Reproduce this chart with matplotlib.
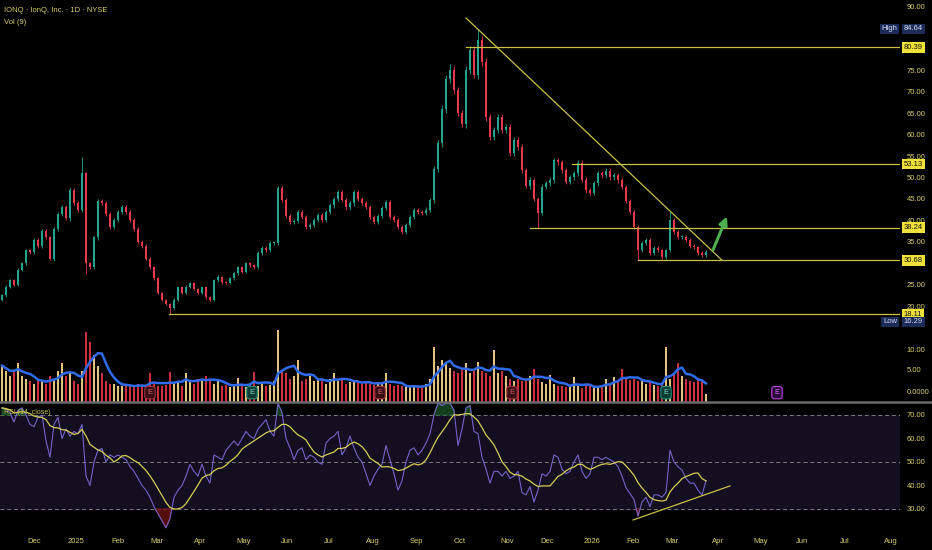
import numpy as np
import pandas as pd
import matplotlib
matplotlib.use('Agg')
import matplotlib.pyplot as plt
import matplotlib.transforms as mtransforms
from matplotlib.lines import Line2D

plt.rcParams['font.family'] = ['Liberation Sans', 'DejaVu Sans']

# --- данные (одна свеча ~ 2 торговых дня) ---
closes = [22.5, 24.5, 26, 25, 28.5, 30, 33, 32.5, 35.5, 34,
          37.5, 36, 31, 38, 41.5, 43, 40.5, 47, 44, 42.5,
          51, 30, 29, 36, 44.5, 44, 41.5, 38.5, 40, 42,
          43, 42, 40, 38, 35, 34, 31, 29, 26.5, 23,
          21.5, 20.5, 19.5, 21.5, 24.4, 23, 24.5, 25.4, 24, 23,
          24.4, 22, 21.5, 26, 26.8, 25.5, 25.4, 26.5, 27.7, 29.1,
          28, 30, 29.5, 29, 32.4, 33.5, 33, 34.7, 34.7, 47.5,
          44.7, 41, 39.5, 39.8, 41.9, 40.8, 38.4, 38.9, 40, 41.2,
          40, 41.9, 43.5, 45, 46.6, 44.7, 43, 44, 46.6, 45,
          44, 43.1, 40.8, 39.6, 41, 42.9, 44.3, 40.8, 40, 38.5,
          37.3, 38.9, 40.8, 42.4, 41.9, 41.7, 42.5, 44.7, 52, 58,
          66, 73, 75.1, 70.4, 65, 62.5, 75, 79.7, 74, 82,
          77, 64, 59.4, 61.1, 64.1, 61.1, 61.8, 55.7, 58.7, 57.1,
          51.7, 48, 49.4, 45, 41.7, 47.8, 48.7, 49.4, 54, 53.5,
          51.7, 49, 50, 51, 53.4, 49.5, 47, 46.4, 48.7, 51,
          50.5, 51.5, 50.1, 50.5, 49.4, 47.8, 44.5, 42, 38.4, 33,
          34.7, 35.4, 32.4, 33.5, 33, 31.4, 33, 40, 37.2, 36.1,
          36.1, 35.4, 34, 33.7, 32.4, 31.9, 32.6]
first_open = 21.5
wick_hi = {20: 54.8, 112: 76.5, 119: 84.64, 167: 42.0}
wick_lo = {21: 27.5, 42: 18.11, 134: 38.24, 159: 30.68}

volumes = [7, 6, 5, 6, 7.5, 5, 4.5, 4, 3.5, 4.5,
           4, 3.5, 5, 4.5, 6, 7.5, 5, 5.5, 4, 3.5,
           6, 13.5, 11.5, 9, 7, 5.5, 4, 3.5, 3.5, 3,
           3, 3.5, 3, 2.8, 3.5, 3, 3.2, 5.5, 3.5, 3,
           3, 3.2, 5.8, 3.5, 4, 3, 5.6, 4, 3.5, 4.5,
           4, 5, 4.5, 3.5, 4, 3, 3.2, 2.8, 3, 4.6,
           3, 2.8, 3.5, 5.8, 3, 3.5, 3, 3.2, 4, 13.8,
           6, 5.5, 4.5, 5, 8, 4, 4.5, 5, 4, 4.2,
           4, 3.5, 4.5, 5.5, 4, 4.6, 3.5, 3.8, 4.2, 3.6,
           3.5, 4, 3.5, 3.2, 3.8, 3.4, 5.6, 3.5, 3, 3.2,
           3, 2.8, 3, 3.2, 2.8, 3, 3.5, 4.5, 10.6, 7,
           8, 7.5, 6.5, 6, 5.5, 6.5, 7.5, 5.5, 6, 7.7,
           6, 5.5, 5, 10, 5.5, 6, 5, 4.5, 4, 4.5,
           4, 4.5, 5, 6.3, 4.5, 3.8, 3.5, 5.2, 3.5, 3,
           3, 2.8, 3.2, 4.8, 3, 2.6, 3.2, 3, 2.8, 3,
           3.2, 4.5, 3.5, 4.8, 4, 6.3, 4.5, 4.2, 4.5, 4,
           4, 3.5, 3.8, 3.2, 3, 3.5, 10.6, 4.5, 5.5, 7.5,
           5, 4.5, 4, 3.8, 4.5, 4, 1.5]

rsi = [73, 72.5, 71, 67, 72, 73, 70, 66, 65, 69,
       70, 59, 52, 66, 69, 60, 64, 61, 63, 62,
       66, 44, 40, 50, 55, 55.8, 50, 53, 52, 53,
       52, 51, 48, 46, 43, 40, 38, 35, 31, 28,
       25, 22, 26, 35, 38, 40, 44, 49, 46, 44,
       49, 44, 41, 53, 52, 51, 55, 57, 59, 57,
       60, 63, 61, 60, 64, 66, 68, 63, 61, 75,
       71, 60, 56, 51, 55, 56, 51, 53, 52, 50,
       49, 58, 60, 61, 63, 53, 56, 61, 56, 52,
       50, 45, 40, 44, 47, 49, 57, 51, 45, 38,
       42, 50, 55, 56, 53, 55, 58, 62, 70, 75,
       74, 75, 75, 72, 57, 64, 73, 74, 63, 62,
       52, 47, 41, 46, 46, 44, 46, 43, 44, 46,
       37, 36, 39.5, 33, 38, 45, 44, 46, 53, 52,
       47, 45, 46, 50, 53, 46, 43, 45, 52, 52,
       51, 52, 51, 50, 48, 44, 39, 36.6, 34, 27,
       33, 35, 31, 36, 36, 35, 37, 55, 50, 48,
       46.5, 43, 41, 41, 38, 36, 42]

month_labels = ['Dec', '2025', 'Feb', 'Mar', 'Apr', 'May', 'Jun', 'Jul', 'Aug', 'Sep', 'Oct',
                'Nov', 'Dec', '2026', 'Feb', 'Mar', 'Apr', 'May', 'Jun', 'Jul', 'Aug']
month_pos = [8, 18.5, 29, 38.75, 49.5, 60.5, 71.25, 81.75, 92.75, 103.5, 114.5,
             126.25, 136.25, 147.5, 157.75, 167.5, 179, 189.75, 200, 210.75, 222.25]

price_ticks = [20, 25, 35, 40, 45, 50, 55, 60, 65, 70, 75, 90]
levels = [80.39, 53.13, 38.24, 30.68, 18.11]
level_start = [116, 142.5, 132, 159, 41.75]
high_val, low_val = 84.64, 16.29
earn_pos = [37, 62.5, 94.5, 127.5, 166, 193.75]
earn_kind = ['r', 'g', 'r', 'r', 'g', 'p']

# цвета
bg = '#000000'
ylw = '#d9cf6a'
up_c, dn_c = '#22a58e', '#e8394c'
vup_c, vdn_c = '#e3c27f', '#cf2f3d'
line_c = '#c9c046'

W, H = 932, 550
fig = plt.figure(figsize=(W / 100, H / 100), dpi=100, facecolor=bg)
right = 900 / W

ax = fig.add_axes([0, 1 - 401 / H, right, 401 / H], facecolor=bg)
axv = fig.add_axes([0, 1 - 402 / H, right, 72 / H])
axv.patch.set_alpha(0)
axr = fig.add_axes([0, 1 - 532 / H, right, 129 / H], facecolor=bg)

n = len(closes)
x = np.arange(n)
c = np.array(closes, dtype=float)
o = np.r_[first_open, c[:-1]]
up = c >= o
wick = 0.012 * c
hi = np.maximum(o, c) + wick
lo = np.minimum(o, c) - wick
for k, v in wick_hi.items():
    hi[k] = v
for k, v in wick_lo.items():
    lo[k] = v
cols = np.where(up, up_c, dn_c)

ax.vlines(x, lo, hi, colors=cols, lw=0.6, zorder=3)
ax.bar(x, np.maximum(np.abs(c - o), 0.25), bottom=np.minimum(o, c), width=0.6,
       color=cols, zorder=3, linewidth=0)

xmax = (W - 32 - 2) / 4
for lv, st in zip(levels, level_start):
    ax.plot([st, xmax], [lv, lv], color=line_c, lw=0.9, zorder=4)
# нисходящая линия тренда и стрелка
ax.plot([116, 180], [87.2, 30.68], color=line_c, lw=0.9, zorder=4)
ax.annotate('', xy=(181.5, 41.5), xytext=(177.5, 32.5),
            arrowprops=dict(arrowstyle='-|>', color='#4caf50', lw=2.2, mutation_scale=12),
            zorder=5)

ax.set_xlim(-0.5, xmax)
ax.set_ylim(-2.16, 91.4)
ax.set_xticks([])
ax.yaxis.tick_right()
ax.set_yticks(price_ticks)
ax.set_yticklabels(['%.2f' % t for t in price_ticks])
ax.tick_params(axis='y', length=0, pad=5, labelsize=5.5, labelcolor=ylw)
for s in ax.spines.values():
    s.set_visible(False)

trans = mtransforms.blended_transform_factory(ax.transAxes, ax.transData)
for lv in levels:
    ax.text(1.004, lv, '%.2f' % lv, transform=trans, ha='left', va='center', fontsize=5.5,
            color='#111111', clip_on=False, zorder=6,
            bbox=dict(boxstyle='square,pad=0.25', fc='#f0e03a', ec='none'))
for val, name in [(high_val, 'High'), (low_val, 'Low')]:
    ax.text(1.004, val, '%.2f' % val, transform=trans, ha='left', va='center', fontsize=5.5,
            color='#d8dcf0', clip_on=False, zorder=6,
            bbox=dict(boxstyle='square,pad=0.25', fc='#1c2c58', ec='none'))
    ax.text(0.997, val, name, transform=trans, ha='right', va='center', fontsize=5.5,
            color='#d8dcf0', clip_on=False, zorder=6,
            bbox=dict(boxstyle='square,pad=0.25', fc='#1c2c58', ec='none'))

# объём
vol = np.array(volumes, dtype=float)
axv.bar(x, vol, width=0.65, color=np.where(up, vup_c, vdn_c), linewidth=0)
vma = pd.Series(vol).rolling(5, min_periods=1).mean()
axv.plot(x, vma, color='#2f6bea', lw=1.8)
ek = {'r': ('#3a0d12', '#a03040', '#d06070'), 'g': ('#0b3d35', '#1f8a78', '#7fd8c8'),
      'p': ('#2a0a3a', '#c040e0', '#d070f0')}
for ep, kd in zip(earn_pos, earn_kind):
    fc, ec, tc = ek[kd]
    axv.text(ep, 1.8, 'E', ha='center', va='center', fontsize=5.5, color=tc,
             bbox=dict(boxstyle='round,pad=0.35', fc=fc, ec=ec, lw=0.8))
axv.set_xlim(-0.5, xmax)
axv.set_ylim(0, 72 / 5.2)
axv.set_xticks([])
axv.yaxis.tick_right()
axv.set_yticks([0, 5, 10])
axv.set_yticklabels(['0.0000', '5.00', '10.00'])
axv.tick_params(axis='y', length=0, pad=5, labelsize=5.5, labelcolor=ylw)
# подписи шкалы объёма чуть выше, как в оригинале
for lab, dy in zip(axv.get_yticklabels(), [10, 6, 0]):
    lab.set_transform(lab.get_transform() + mtransforms.ScaledTranslation(0, dy / 100, fig.dpi_scale_trans))
for s in axv.spines.values():
    s.set_visible(False)

# RSI
r = np.array(rsi, dtype=float)
axr.axhspan(30, 70, color='#130f20', zorder=0)
for lv in [70, 50, 30]:
    axr.axhline(lv, color='#7a7a7a', lw=0.7, ls=(0, (4, 3)), zorder=1)
axr.fill_between(x, r, 70, where=r > 70, interpolate=True, color='#1d5a2a', alpha=0.7, zorder=2)
axr.fill_between(x, r, 30, where=r < 30, interpolate=True, color='#7a1414', alpha=0.7, zorder=2)
axr.plot(x, r, color='#7463c8', lw=0.8, zorder=3)
rma = pd.Series(r).rolling(8, min_periods=1).mean()
axr.plot(x, rma, color='#d8cc55', lw=0.9, zorder=4)
axr.plot([157.75, 182], [25.3, 39.8], color=line_c, lw=0.9, zorder=4)
axr.set_xlim(-0.5, xmax)
axr.set_ylim(20.2, 75.1)
axr.yaxis.tick_right()
rt = [30, 40, 50, 60, 70]
axr.set_yticks(rt)
axr.set_yticklabels(['%.2f' % t for t in rt])
axr.set_xticks(month_pos)
axr.set_xticklabels(month_labels)
axr.tick_params(axis='both', length=0, labelsize=5.5, labelcolor=ylw)
axr.tick_params(axis='y', pad=5)
axr.tick_params(axis='x', pad=4)
for s in axr.spines.values():
    s.set_visible(False)

fig.add_artist(Line2D([0, 1], [1 - 402 / H, 1 - 402 / H], color='#6a6a6a', lw=1.8))

fig.text(4 / W, 1 - 10 / H, 'IONQ · IonQ, Inc. · 1D · NYSE', fontsize=5.5, color=ylw, va='center')
fig.text(4 / W, 1 - 22 / H, 'Vol (9)', fontsize=5.5, color=ylw, va='center')
fig.text(4 / W, 1 - 413 / H, 'RSI (14, close)', fontsize=5, color='#c8bf50', va='center', zorder=10)

fig.savefig('out.png', dpi=100, facecolor=bg)
